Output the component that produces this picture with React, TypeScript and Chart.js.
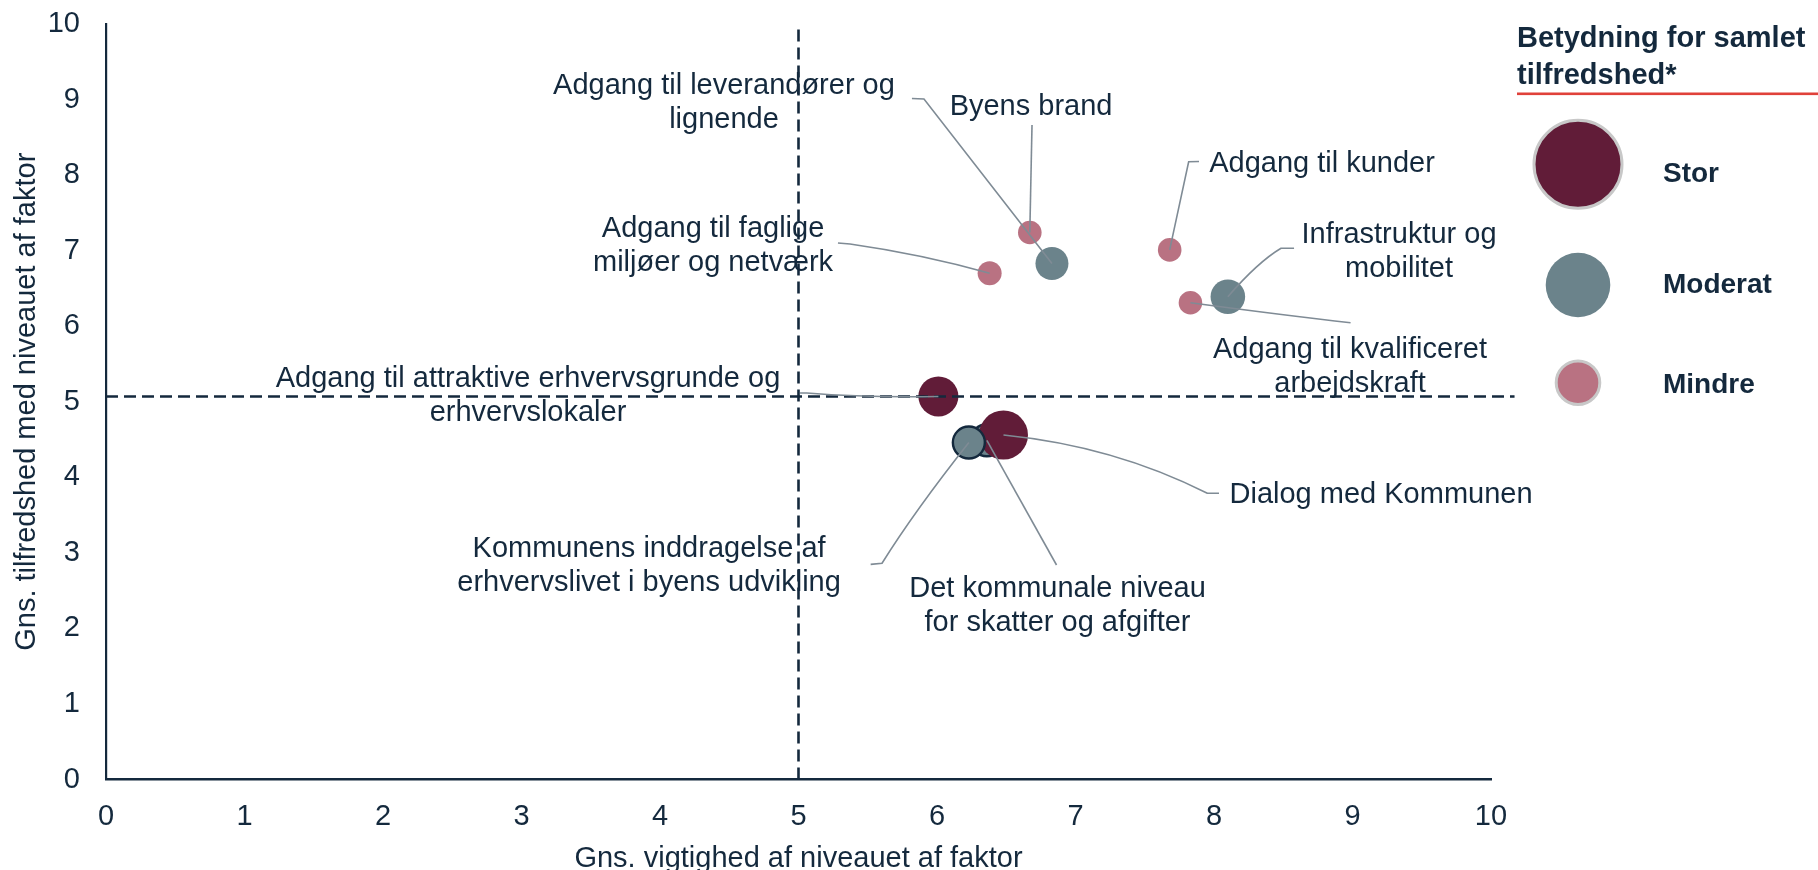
import React, { useEffect, useRef } from "react";
import { Chart, registerables } from "chart.js";

Chart.register(...registerables);

// ---------- DATA ----------
const factors = [
  "Adgang til leverandører og lignende",
  "Byens brand",
  "Adgang til kunder",
  "Adgang til faglige miljøer og netværk",
  "Infrastruktur og mobilitet",
  "Adgang til kvalificeret arbejdskraft",
  "Adgang til attraktive erhvervsgrunde og erhvervslokaler",
  "Det kommunale niveau for skatter og afgifter",
  "Dialog med Kommunen",
  "Kommunens inddragelse af erhvervslivet i byens udvikling",
];
const importance = [6.83, 6.67, 7.68, 6.38, 8.1, 7.83, 6.01, 6.36, 6.48, 6.23];
const satisfaction = [6.83, 7.24, 7.01, 6.7, 6.39, 6.31, 5.07, 4.49, 4.56, 4.46];
const significance = ["Moderat", "Mindre", "Mindre", "Mindre", "Moderat", "Mindre", "Stor", "Moderat", "Stor", "Moderat"];
const bubbleSize = [16.5, 11.8, 11.8, 12, 17.3, 11.8, 20, 16, 24.5, 16];
const meanImportance = 5;
const meanSatisfaction = 5.07;
const legendItems = ["Stor", "Moderat", "Mindre"];
const legendTitle = ["Betydning for samlet", "tilfredshed*"];
const xTitle = "Gns. vigtighed af niveauet af faktor";
const yTitle = "Gns. tilfredshed med niveauet af faktor";

const labelLines = [
  ["Adgang til leverandører og", "lignende"],
  ["Byens brand"],
  ["Adgang til kunder"],
  ["Adgang til faglige", "miljøer og netværk"],
  ["Infrastruktur og", "mobilitet"],
  ["Adgang til kvalificeret", "arbejdskraft"],
  ["Adgang til attraktive erhvervsgrunde og", "erhvervslokaler"],
  ["Det kommunale niveau", "for skatter og afgifter"],
  ["Dialog med Kommunen"],
  ["Kommunens inddragelse af", "erhvervslivet i byens udvikling"],
];

// ---------- LAYOUT / STYLE (annotation placement in axis units) ----------
type Pt = [number, number];
const labelPlacement: { x: number; y: number; path: Pt[]; ctrl?: Pt }[] = [
  { x: 4.462, y: 9.073, path: [[5.819, 9.014], [5.906, 9.007]] },
  { x: 6.679, y: 8.796, path: [[6.686, 8.664]] },
  { x: 8.78, y: 8.045, path: [[7.892, 8.18], [7.817, 8.177]] },
  { x: 4.383, y: 7.181, path: [[5.285, 7.101], [5.372, 7.088]], ctrl: [5.9, 6.95] },
  { x: 9.336, y: 7.101, path: [[8.578, 7.031], [8.484, 7.031]], ctrl: [8.318, 6.85] },
  { x: 8.982, y: 5.579, path: [[8.986, 6.046]], ctrl: [8.549, 6.135] },
  { x: 3.047, y: 5.199, path: [[5.011, 5.116], [5.06, 5.116]], ctrl: [5.516, 5.05] },
  { x: 6.87, y: 2.42, path: [[6.863, 2.839]] },
  { x: 9.206, y: 3.66, path: [[8.036, 3.788], [7.952, 3.788]], ctrl: [7.278, 4.414] },
  { x: 3.921, y: 2.949, path: [[5.521, 2.848], [5.603, 2.862]], ctrl: [5.839, 3.554] },
];

const NAVY = "#14293d";
const LEADER = "#7f8b95";
const FONT = "'Liberation Sans', Arial, sans-serif";
const COLORS: Record<string, string> = { Stor: "#611c38", Moderat: "#6b838b", Mindre: "#b97282" };
const OUTLINED = new Set([
  "Det kommunale niveau for skatter og afgifter",
  "Kommunens inddragelse af erhvervslivet i byens udvikling",
]);

const annotationPlugin = {
  id: "annotations",
  afterDatasetsDraw(chart: any) {
    const { ctx, scales } = chart;
    const xs = scales.x;
    const ys = scales.y;
    const px = (p: Pt): Pt => [xs.getPixelForValue(p[0]), ys.getPixelForValue(p[1])];
    ctx.save();
    ctx.strokeStyle = LEADER;
    ctx.lineWidth = 1.6;
    labelPlacement.forEach((lp, i) => {
      const end = px([importance[i], satisfaction[i]]);
      const pts = lp.path.map(px);
      ctx.beginPath();
      ctx.moveTo(pts[0][0], pts[0][1]);
      for (let k = 1; k < pts.length; k++) ctx.lineTo(pts[k][0], pts[k][1]);
      if (lp.ctrl) {
        const c = px(lp.ctrl);
        ctx.quadraticCurveTo(c[0], c[1], end[0], end[1]);
      } else {
        ctx.lineTo(end[0], end[1]);
      }
      ctx.stroke();
    });
    ctx.fillStyle = NAVY;
    ctx.font = `29px ${FONT}`;
    ctx.textAlign = "center";
    ctx.textBaseline = "alphabetic";
    labelPlacement.forEach((lp, i) => {
      const [x, y] = px([lp.x, lp.y]);
      labelLines[i].forEach((line, k) => ctx.fillText(line, x, y + k * 34));
    });
    ctx.restore();
  },
  afterDraw(chart: any) {
    const { ctx, chartArea } = chart;
    const right = chartArea.right;
    const lx = right + 26;
    ctx.save();
    ctx.fillStyle = NAVY;
    ctx.font = `bold 29px ${FONT}`;
    ctx.textAlign = "left";
    ctx.textBaseline = "alphabetic";
    legendTitle.forEach((t, k) => ctx.fillText(t, lx, 47 + k * 37));
    ctx.fillStyle = "#e0413a";
    ctx.fillRect(lx, 92.5, chart.width - lx, 2.6);
    const cx = right + 87;
    const rows = [
      { cy: 164.3, r: 44, border: true },
      { cy: 285, r: 32.3, border: false },
      { cy: 382.7, r: 21.8, border: true },
    ];
    const textY = [181.7, 293, 393];
    legendItems.forEach((name, k) => {
      const row = rows[k];
      ctx.beginPath();
      ctx.arc(cx, row.cy, row.r, 0, Math.PI * 2);
      ctx.fillStyle = COLORS[name];
      ctx.fill();
      if (row.border) {
        ctx.lineWidth = 3;
        ctx.strokeStyle = "#c8c8c8";
        ctx.stroke();
      }
      ctx.fillStyle = NAVY;
      ctx.font = `bold 28px ${FONT}`;
      ctx.fillText(name, right + 172, textY[k]);
    });
    ctx.restore();
  },
};

export default function App() {
  const ref = useRef<HTMLCanvasElement | null>(null);
  useEffect(() => {
    document.body.style.margin = "0";
    const canvas = ref.current;
    if (!canvas) return;
    Chart.defaults.font.family = FONT;
    const bubbles = factors.map((f, i) => ({ x: importance[i], y: satisfaction[i], r: bubbleSize[i] }));
    const chart = new Chart(canvas, {
      type: "bubble",
      data: {
        datasets: [
          {
            type: "line" as any,
            data: [
              { x: meanImportance, y: 0 },
              { x: meanImportance, y: 10 },
            ],
            borderColor: NAVY,
            borderWidth: 2.6,
            borderDash: [12, 6],
            pointRadius: 0,
            fill: false,
            order: 0,
          } as any,
          {
            type: "line" as any,
            data: [
              { x: 0, y: meanSatisfaction },
              { x: 10.17, y: meanSatisfaction },
            ],
            borderColor: NAVY,
            borderWidth: 2.6,
            borderDash: [12, 6],
            pointRadius: 0,
            fill: false,
            clip: false,
            order: 0,
          } as any,
          {
            data: bubbles,
            backgroundColor: factors.map((f, i) => COLORS[significance[i]]),
            borderColor: factors.map((f) => (OUTLINED.has(f) ? NAVY : "rgba(0,0,0,0)")),
            borderWidth: factors.map((f) => (OUTLINED.has(f) ? 2.4 : 0)),
            order: 1,
          } as any,
        ],
      },
      options: {
        animation: false,
        responsive: false,
        devicePixelRatio: 1,
        events: [],
        layout: { padding: { left: 0, top: 24, right: 327, bottom: 0 }, autoPadding: false },
        plugins: { legend: { display: false }, tooltip: { enabled: false } },
        scales: {
          x: {
            type: "linear",
            min: 0,
            max: 10,
            ticks: { stepSize: 1, color: NAVY, font: { size: 29, family: FONT }, padding: 20 },
            grid: { display: false, drawTicks: false },
            border: { display: true, color: NAVY, width: 2.6 },
            title: { display: true, text: xTitle, color: NAVY, font: { size: 29, family: FONT }, padding: { top: 0, bottom: -6 } },
            afterFit: (s: any) => {
              s.height = 90.5;
              s.paddingLeft = 0;
              s.paddingRight = 0;
            },
          },
          y: {
            type: "linear",
            min: 0,
            max: 10,
            ticks: { stepSize: 1, color: NAVY, font: { size: 29, family: FONT }, padding: 26 },
            grid: { display: false, drawTicks: false },
            border: { display: true, color: NAVY, width: 2.2 },
            title: { display: true, text: yTitle, color: NAVY, font: { size: 29, family: FONT }, padding: { top: 10, bottom: 0 } },
            afterFit: (s: any) => {
              s.width = 106;
              s.paddingTop = 0;
              s.paddingBottom = 0;
            },
          },
        },
      },
      plugins: [annotationPlugin],
    });
    return () => chart.destroy();
  }, []);
  return (
    <div style={{ position: "absolute", left: 0, top: 0, width: 1818, height: 870 }}>
      <canvas ref={ref} width={1818} height={870} style={{ width: 1818, height: 870, display: "block" }} />
    </div>
  );
}
